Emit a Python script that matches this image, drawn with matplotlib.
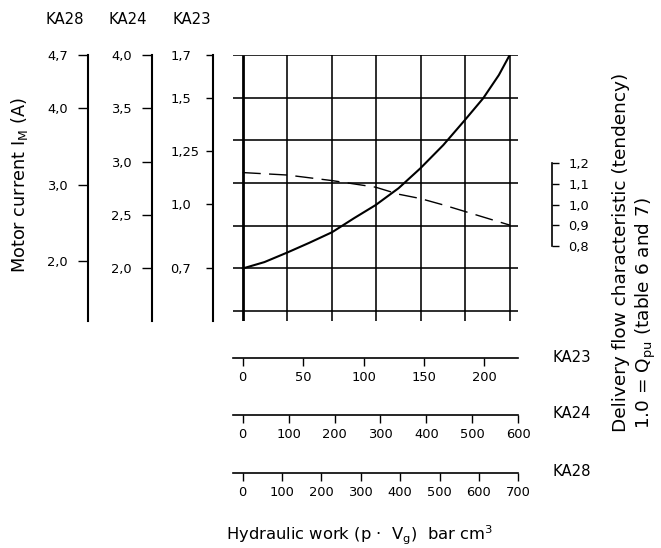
import numpy as np
import matplotlib
matplotlib.use("Agg")
import matplotlib.pyplot as plt

# ---------------- data ----------------
# x in KA23 hydraulic-work units (bar cm3), y in KA23 motor current (A)
current_x = [0, 18, 37, 55, 74, 92, 110, 129, 147, 166, 184, 199, 212, 221]
current_y = [0.70, 0.73, 0.775, 0.82, 0.87, 0.935, 0.997, 1.076, 1.169, 1.278, 1.396, 1.497, 1.606, 1.70]
# delivery flow characteristic (tendency)
flow_x = [0, 37, 74, 110, 129, 147, 166, 184, 221]
flow_y = [1.155, 1.143, 1.116, 1.084, 1.050, 1.029, 0.998, 0.966, 0.90]

ka28_ticks = [2.0, 3.0, 4.0, 4.7]
ka24_ticks = [2.0, 2.5, 3.0, 3.5, 4.0]
ka23_ticks = [0.7, 1.0, 1.25, 1.5, 1.7]
ka28_labels = ["2,0", "3,0", "4,0", "4,7"]
ka24_labels = ["2,0", "2,5", "3,0", "3,5", "4,0"]
ka23_labels = ["0,7", "1,0", "1,25", "1,5", "1,7"]
flow_ticks = [0.8, 0.9, 1.0, 1.1, 1.2]
flow_labels = ["0,8", "0,9", "1,0", "1,1", "1,2"]
bx23_ticks = [0, 50, 100, 150, 200]
bx24_ticks = [0, 100, 200, 300, 400, 500, 600]
bx28_ticks = [0, 100, 200, 300, 400, 500, 600, 700]
series_names = ["KA28", "KA24", "KA23"]

# ---------------- layout helpers ----------------
W, H = 661, 548
plt.rcParams['font.family'] = ['DejaVu Sans']
plt.rcParams['mathtext.fontset'] = 'dejavusans'
TICKFONT = dict(family='DejaVu Sans', size=9.4)
NAMEFONT = dict(family='DejaVu Sans', size=10.7)

fig = plt.figure(figsize=(W / 100, H / 100), dpi=100)

def fx(x):
    return x / W

def fy(y):
    return (H - y) / H

TOP, BOT = 55, 321
LEFT, RIGHT = 233, 518.3

# ---------------- main grid axes ----------------
ax = fig.add_axes([fx(LEFT), fy(BOT), fx(RIGHT) - fx(LEFT), fy(TOP) - fy(BOT)])
ax.set_xlim(-8.03, 228.1)
ax.set_ylim(0.454, 1.70)
for s in ax.spines.values():
    s.set_visible(False)
ax.set_xticks([])
ax.set_yticks([])
ax.patch.set_alpha(0)
xmax = current_x[-1]
vgrid = np.linspace(0, xmax, 7)
hgrid = [0.5, 0.7, 0.9, 1.1, 1.3, 1.5, 1.7]
ax.hlines(hgrid, -8.03, 228.1, color='black', lw=1.15)
ax.vlines(vgrid[1:], 0.454, 1.70, color='black', lw=1.15)
ax.vlines([0], 0.454, 1.70, color='black', lw=2.0)
ax.plot(current_x, current_y, color='black', lw=1.5, solid_capstyle='round')

axf = ax.twinx()
axf.set_ylim(0.4345, 1.7257)
axf.set_xlim(-8.03, 228.1)
for s in axf.spines.values():
    s.set_visible(False)
axf.set_yticks([])
axf.plot(flow_x, flow_y, color='black', lw=1.0, dashes=(13, 6))

# ---------------- left current axes ----------------
def left_axis(xpix, ylim, ticks, labels, ticklen_px, pad_pt, ha='right'):
    a = fig.add_axes([fx(xpix), fy(BOT), 0.0005, fy(TOP) - fy(BOT)])
    a.set_ylim(*ylim)
    for k, s in a.spines.items():
        s.set_visible(k == 'left')
    a.spines['left'].set_linewidth(1.5)
    a.set_xticks([])
    a.set_yticks(ticks)
    a.set_yticklabels(labels, **TICKFONT)
    a.tick_params(axis='y', direction='out', length=ticklen_px * 0.72, width=1.0, pad=pad_pt)
    for t in a.get_yticklabels():
        t.set_horizontalalignment(ha)
    a.patch.set_alpha(0)
    return a

left_axis(87.7, (1.214, 4.7), ka28_ticks, ka28_labels, 10, 7.2)
left_axis(151.7, (1.507, 4.0), ka24_ticks, ka24_labels, 10, 7.2)
left_axis(213.3, (0.454, 1.70), ka23_ticks, ka23_labels, 7, 25.9, ha='left')

for name, xc in zip(series_names, [65, 128, 192]):
    fig.text(fx(xc), fy(20), name, ha='center', va='center', **NAMEFONT)

fig.text(fx(20), fy(185), 'Motor current I$_\\mathregular{M}$ (A)', rotation=90,
         ha='center', va='center', family='DejaVu Sans', size=12.8)

# ---------------- flow bracket axis ----------------
af = fig.add_axes([fx(551.7) - 0.0005, fy(BOT), 0.0005, fy(TOP) - fy(BOT)])
af.set_ylim(0.4345, 1.7257)
for k, s in af.spines.items():
    s.set_visible(k == 'right')
af.spines['right'].set_bounds(0.8, 1.2)
af.spines['right'].set_linewidth(1.2)
af.set_xticks([])
af.yaxis.tick_right()
af.set_yticks(flow_ticks)
af.set_yticklabels(flow_labels, **TICKFONT)
af.tick_params(axis='y', direction='out', length=6.7 * 0.72, width=1.0, pad=7.2)
af.patch.set_alpha(0)

fig.text(fx(621), fy(432), 'Delivery flow characteristic (tendency)',
         rotation=90, ha='center', va='bottom', family='DejaVu Sans', size=13.3)
fig.text(fx(646), fy(429), '1.0 = Q$_\\mathregular{pu}$ (table 6 and 7)',
         rotation=90, ha='center', va='bottom', family='DejaVu Sans', size=13.3)

# ---------------- bottom work axes ----------------
def bottom_axis(ypix, xlim, ticks, name, name_y):
    a = fig.add_axes([fx(LEFT), fy(ypix), fx(RIGHT) - fx(LEFT), 0.0005])
    a.set_xlim(*xlim)
    for k, s in a.spines.items():
        s.set_visible(k == 'bottom')
    a.spines['bottom'].set_linewidth(1.2)
    a.set_yticks([])
    a.set_xticks(ticks)
    a.set_xticklabels([str(t) for t in ticks], **TICKFONT)
    a.tick_params(axis='x', direction='out', length=8 * 0.72, width=1.0, pad=3.5)
    a.patch.set_alpha(0)
    fig.text(fx(553), fy(name_y), name, ha='left', va='center', **NAMEFONT)
    return a

bottom_axis(358.3, (-8.03, 228.1), bx23_ticks, 'KA23', 357)
bottom_axis(415.0, (-21.1, 600.0), bx24_ticks, 'KA24', 413)
bottom_axis(473.3, (-24.6, 700.0), bx28_ticks, 'KA28', 472)

fig.text(fx(360), fy(535.5), 'Hydraulic work (p $\\cdot$  V$_\\mathregular{g}$)  bar cm$^\\mathregular{3}$',
         ha='center', va='center', family='DejaVu Sans', size=11.8)

fig.savefig('out.png', dpi=100)
